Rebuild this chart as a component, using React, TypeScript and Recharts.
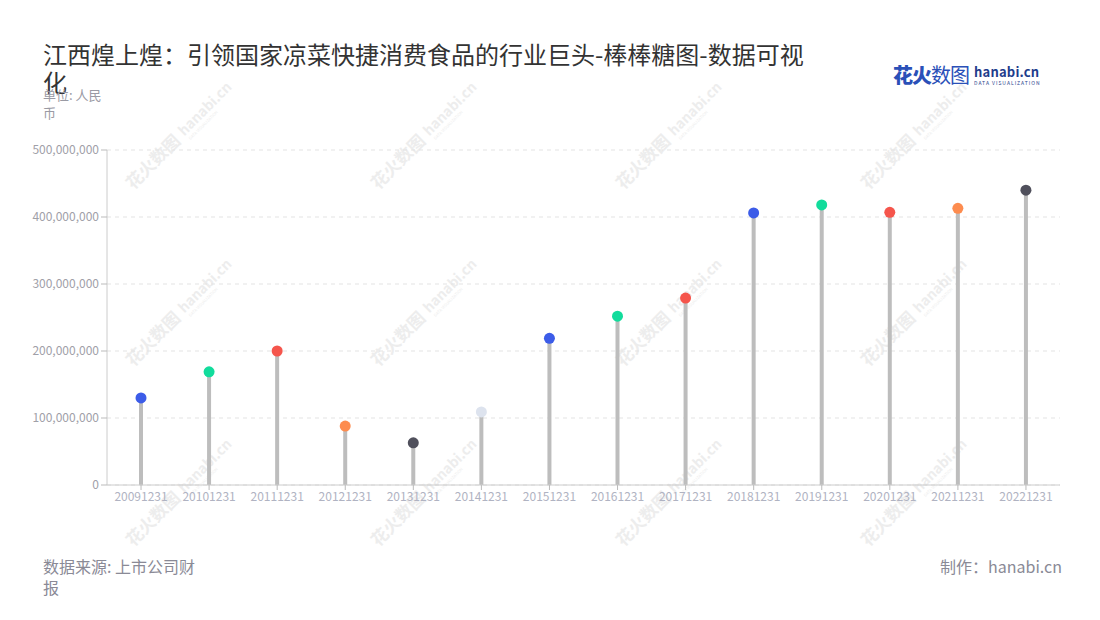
import { Bar, CartesianGrid, ComposedChart, XAxis, YAxis } from 'recharts'

const categories = [
  '20091231', '20101231', '20111231', '20121231', '20131231', '20141231', '20151231',
  '20161231', '20171231', '20181231', '20191231', '20201231', '20211231', '20221231',
]
const revenue = [
  130000000, 169000000, 200000000, 88000000, 63000000, 109000000, 219000000,
  252000000, 279000000, 406000000, 418000000, 407000000, 413000000, 440000000,
]
const dotColors = [
  '#3c5ce8', '#12dc9c', '#f5554c', '#fd8c4f', '#50505c', '#dde3ee', '#3c5ce8',
  '#12dc9c', '#f5554c', '#3c5ce8', '#12dc9c', '#f5554c', '#fd8c4f', '#50505c',
]
const yTicks = [0, 100000000, 200000000, 300000000, 400000000, 500000000]

const data = categories.map((name, i) => ({ name, value: revenue[i], color: dotColors[i] }))

const font = '"Noto Sans CJK SC", "Noto Sans", sans-serif'

// stem + dot drawn together
function Lollipop(props: any) {
  const { x, y, width, height, payload } = props
  const cx = x + width / 2
  return (
    <g>
      <rect x={x} y={y} width={width} height={height} fill='#bdbdbd' />
      <circle cx={cx} cy={y} r={5.5} fill={payload.color} />
    </g>
  )
}

const wmX = [180, 425, 670, 915]
const wmY = [135, 312, 492]

function Watermarks() {
  return (
    <svg width={1100} height={620} style={{ position: 'absolute', left: 0, top: 0, pointerEvents: 'none' }}>
      {wmY.map((wy) =>
        wmX.map((wx) => (
          <g key={wx + '-' + wy} transform={`translate(${wx},${wy}) rotate(-45)`} fill='#ededed' fontFamily={font}>
            <text x={-72} y={6} fontSize={17} fontWeight={700}>花火数图</text>
            <text x={2} y={4} fontSize={14} fontWeight={700}>hanabi.cn</text>
            <text x={4} y={11} fontSize={4}>DATA VISUALIZATION</text>
          </g>
        ))
      )}
    </svg>
  )
}

export default function App() {
  return (
    <div style={{ position: 'absolute', left: 0, top: 0, width: 1100, height: 620, background: '#fff', fontFamily: font, overflow: 'hidden' }}>
      <Watermarks />
      <div style={{ position: 'absolute', left: 0, top: 0 }}>
        <ComposedChart width={1100} height={620} data={data} margin={{ top: 150, right: 40, bottom: 105, left: 0 }}>
          <CartesianGrid vertical={false} stroke='#e3e3e3' strokeDasharray='4 4' />
          <XAxis
            dataKey='name'
            height={30}
            stroke='#cccccc'
            tickLine={{ stroke: '#bbbbbb' }}
            tickSize={5}
            tick={{ fill: '#b0b3c2', fontSize: 12, fontFamily: font }}
            interval={0}
          />
          <YAxis
            width={107}
            domain={[0, 500000000]}
            ticks={yTicks}
            stroke='#cccccc'
            tickLine={{ stroke: '#bbbbbb' }}
            tickSize={6}
            tick={{ fill: '#a0a0a8', fontSize: 12, fontFamily: font }}
            tickFormatter={(v: number) => v.toLocaleString('en-US')}
          />
          <Bar dataKey='value' barSize={4} shape={Lollipop} isAnimationActive={false} />
        </ComposedChart>
      </div>
      <div style={{ position: 'absolute', left: 43, top: 40, fontSize: 24, lineHeight: '28px', color: '#333' }}>
        江西煌上煌：引领国家凉菜快捷消费食品的行业巨头-棒棒糖图-数据可视<br />化
      </div>
      <div style={{ position: 'absolute', left: 43, top: 86, fontSize: 13, lineHeight: '18px', color: '#9a9aa4' }}>
        单位: 人民<br />币
      </div>
      <div style={{ position: 'absolute', left: 893, top: 60, display: 'flex', alignItems: 'center' }}>
        <span style={{ fontSize: 20, fontWeight: 900, color: '#2a50b8', letterSpacing: -1 }}>花火</span>
        <span style={{ fontSize: 20, fontWeight: 400, color: '#2a50b8', letterSpacing: -1 }}>数图</span>
        <span style={{ display: 'flex', flexDirection: 'column', marginLeft: 5, lineHeight: 1 }}>
          <span style={{ fontSize: 13, fontWeight: 700, color: '#1f3d8c', letterSpacing: 0.2 }}>hanabi.cn</span>
          <span style={{ fontSize: 5, color: '#1f3d8c', letterSpacing: 1, marginTop: 2 }}>DATA VISUALIZATION</span>
        </span>
      </div>
      <div style={{ position: 'absolute', left: 43, top: 556, fontSize: 16, lineHeight: '21px', color: '#8a8a96' }}>
        数据来源: 上市公司财<br />报
      </div>
      <div style={{ position: 'absolute', right: 38, top: 556, fontSize: 16, lineHeight: '21px', color: '#8a8a96' }}>
        制作：hanabi.cn
      </div>
    </div>
  )
}
